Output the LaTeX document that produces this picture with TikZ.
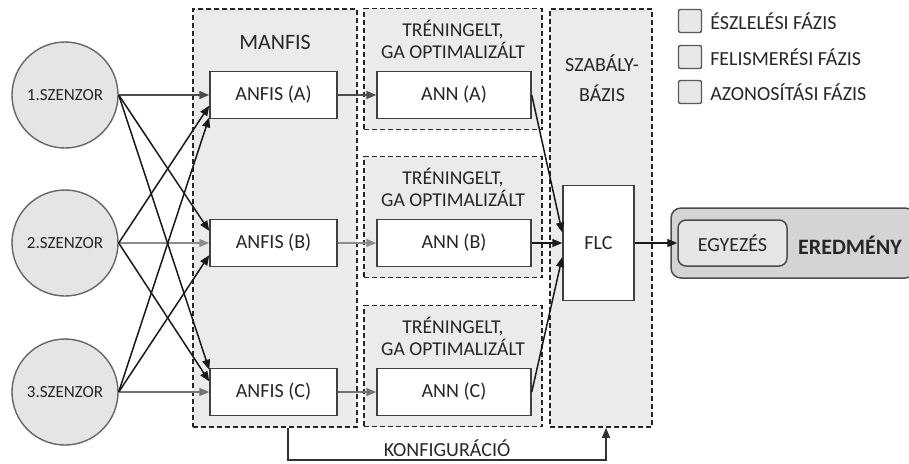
\documentclass[tikz,border=0pt]{standalone}
\usepackage{fontspec}
\setmainfont{Carlito}
\usetikzlibrary{arrows.meta,calc,positioning}

\tikzset{
  panel/.style={draw=black!85, dash pattern=on 2.5pt off 1.5pt, fill=black!8, line width=0.75pt},
  sensor/.style={circle, draw=black!60, fill=black!10, minimum size=53pt, inner sep=0pt, line width=0.7pt, font=\fontsize{8.5}{10}\selectfont},
  box/.style={draw=black!75, fill=white, line width=0.75pt, minimum height=23.5pt, inner sep=0pt},
  legbox/.style={draw=black!65, fill=black!9, minimum size=11.5pt, inner sep=0pt, rounded corners=1pt, line width=0.7pt},
  twoline/.style={align=center, font=\fontsize{9.8}{11}\selectfont},
  arr/.style={-{Triangle[length=5pt,width=4pt]}, line width=0.75pt, draw=black!90},
}

\begin{document}
\begin{tikzpicture}[x=0.5pt, y=-0.5pt, font=\fontsize{10}{12}\selectfont, text=black!85]
  \useasboundingbox (0,0) rectangle (909,463);

  % phase panels
  \node[panel, minimum width=82pt, minimum height=209pt] (manfis) at (275,218) {};
  \node[panel, minimum width=89pt, minimum height=60.5pt] (tra) at (453,69) {};
  \node[panel, minimum width=89pt, minimum height=60.5pt] (trb) at (453,217) {};
  \node[panel, minimum width=89pt, minimum height=60.5pt] (trc) at (453,366) {};
  \node[panel, minimum width=51pt, minimum height=209pt] (szab) at (601,218) {};

  \node[font=\fontsize{11}{12}\selectfont] (lmanfis) at (275,42) {MANFIS};
  \node[twoline] (ltra) at (453,39) {TRÉNINGELT,\\GA OPTIMALIZÁLT};
  \node[twoline] (ltrb) at (453,187) {TRÉNINGELT,\\GA OPTIMALIZÁLT};
  \node[twoline] (ltrc) at (453,336) {TRÉNINGELT,\\GA OPTIMALIZÁLT};
  \node[align=center, font=\fontsize{10}{15}\selectfont] (lszab) at (602,78) {SZABÁLY-\\BÁZIS};

  % sensors
  \node[sensor] (s1) at (65,95) {1.SZENZOR};
  \node[sensor] (s2) at (65,243) {2.SZENZOR};
  \node[sensor] (s3) at (65,392) {3.SZENZOR};

  % blocks
  \node[box, minimum width=63.5pt] (anfisa) at (273.5,95) {ANFIS (A)};
  \node[box, minimum width=63.5pt] (anfisb) at (273.5,243) {ANFIS (B)};
  \node[box, minimum width=63.5pt] (anfisc) at (273.5,392) {ANFIS (C)};
  \node[box, minimum width=77pt] (anna) at (454,95) {ANN (A)};
  \node[box, minimum width=77pt] (annb) at (454,243) {ANN (B)};
  \node[box, minimum width=77pt] (annc) at (454,392) {ANN (C)};
  \node[box, minimum width=35.5pt, minimum height=57.5pt] (flc) at (598.5,243) {FLC};

  % result
  \node[draw=black!70, fill=black!17, rounded corners=5pt, minimum width=122pt, minimum height=35pt, line width=0.75pt] (result) at (793,243) {};
  \node[draw=black!70, fill=black!10, rounded corners=4pt, minimum width=54.5pt, minimum height=23pt, line width=0.75pt] (egyezes) at (732.5,243) {EGYEZÉS};
  \node[font=\bfseries\fontsize{11}{12}\selectfont] (eredmeny) at (850,245) {EREDMÉNY};

  % legend
  \foreach \y/\t [count=\i] in {21/ÉSZLELÉSI FÁZIS, 57/FELISMERÉSI FÁZIS, 92/AZONOSÍTÁSI FÁZIS}{
    \node[legbox] (leg\i) at (690,\y) {};
    \node[right=0.5pt of leg\i] (legt\i) {\t};
  }

  % sensor -> ANFIS
  \draw[arr, draw=black!70] (s1.east) -- (anfisa.west);
  \draw[arr, draw=black!45] (s2.east) -- (anfisb.west);
  \draw[arr, draw=black!55] (s3.east) -- (anfisc.west);
  \draw[arr] (s1.east) -- ($(anfisb.north west)!0.25!(anfisb.south west)$);
  \draw[arr] (s1.east) -- ($(anfisc.north west)!0.04!(anfisc.south west)$);
  \draw[arr] (s2.east) -- ($(anfisa.north west)!0.72!(anfisa.south west)$);
  \draw[arr] (s2.east) -- ($(anfisc.north west)!0.28!(anfisc.south west)$);
  \draw[arr] (s3.east) -- ($(anfisa.north west)!0.96!(anfisa.south west)$);
  \draw[arr] (s3.east) -- ($(anfisb.north west)!0.75!(anfisb.south west)$);

  % ANFIS -> ANN -> FLC
  \draw[arr, draw=black!70] (anfisa.east) -- (anna.west);
  \draw[arr, draw=black!45] (anfisb.east) -- (annb.west);
  \draw[arr, draw=black!55] (anfisc.east) -- (annc.west);
  \draw[arr] (anna.east) -- ($(flc.north west)!0.41!(flc.south west)$);
  \draw[arr] (annb.east) -- (flc.west);
  \draw[arr] (annc.east) -- ($(flc.north west)!0.62!(flc.south west)$);
  \draw[arr] (flc.east) -- (egyezes.west);

  % configuration feedback
  \coordinate (kfgl) at (288,460);
  \coordinate (kfgr) at (606,460);
  \draw[arr, draw=black!80] (manfis.south -| kfgl) -- (kfgl) -- node[above, inner sep=1.5pt] (lkfg) {KONFIGURÁCIÓ} (kfgr) -- (szab.south -| kfgr);
\end{tikzpicture}
\end{document}
